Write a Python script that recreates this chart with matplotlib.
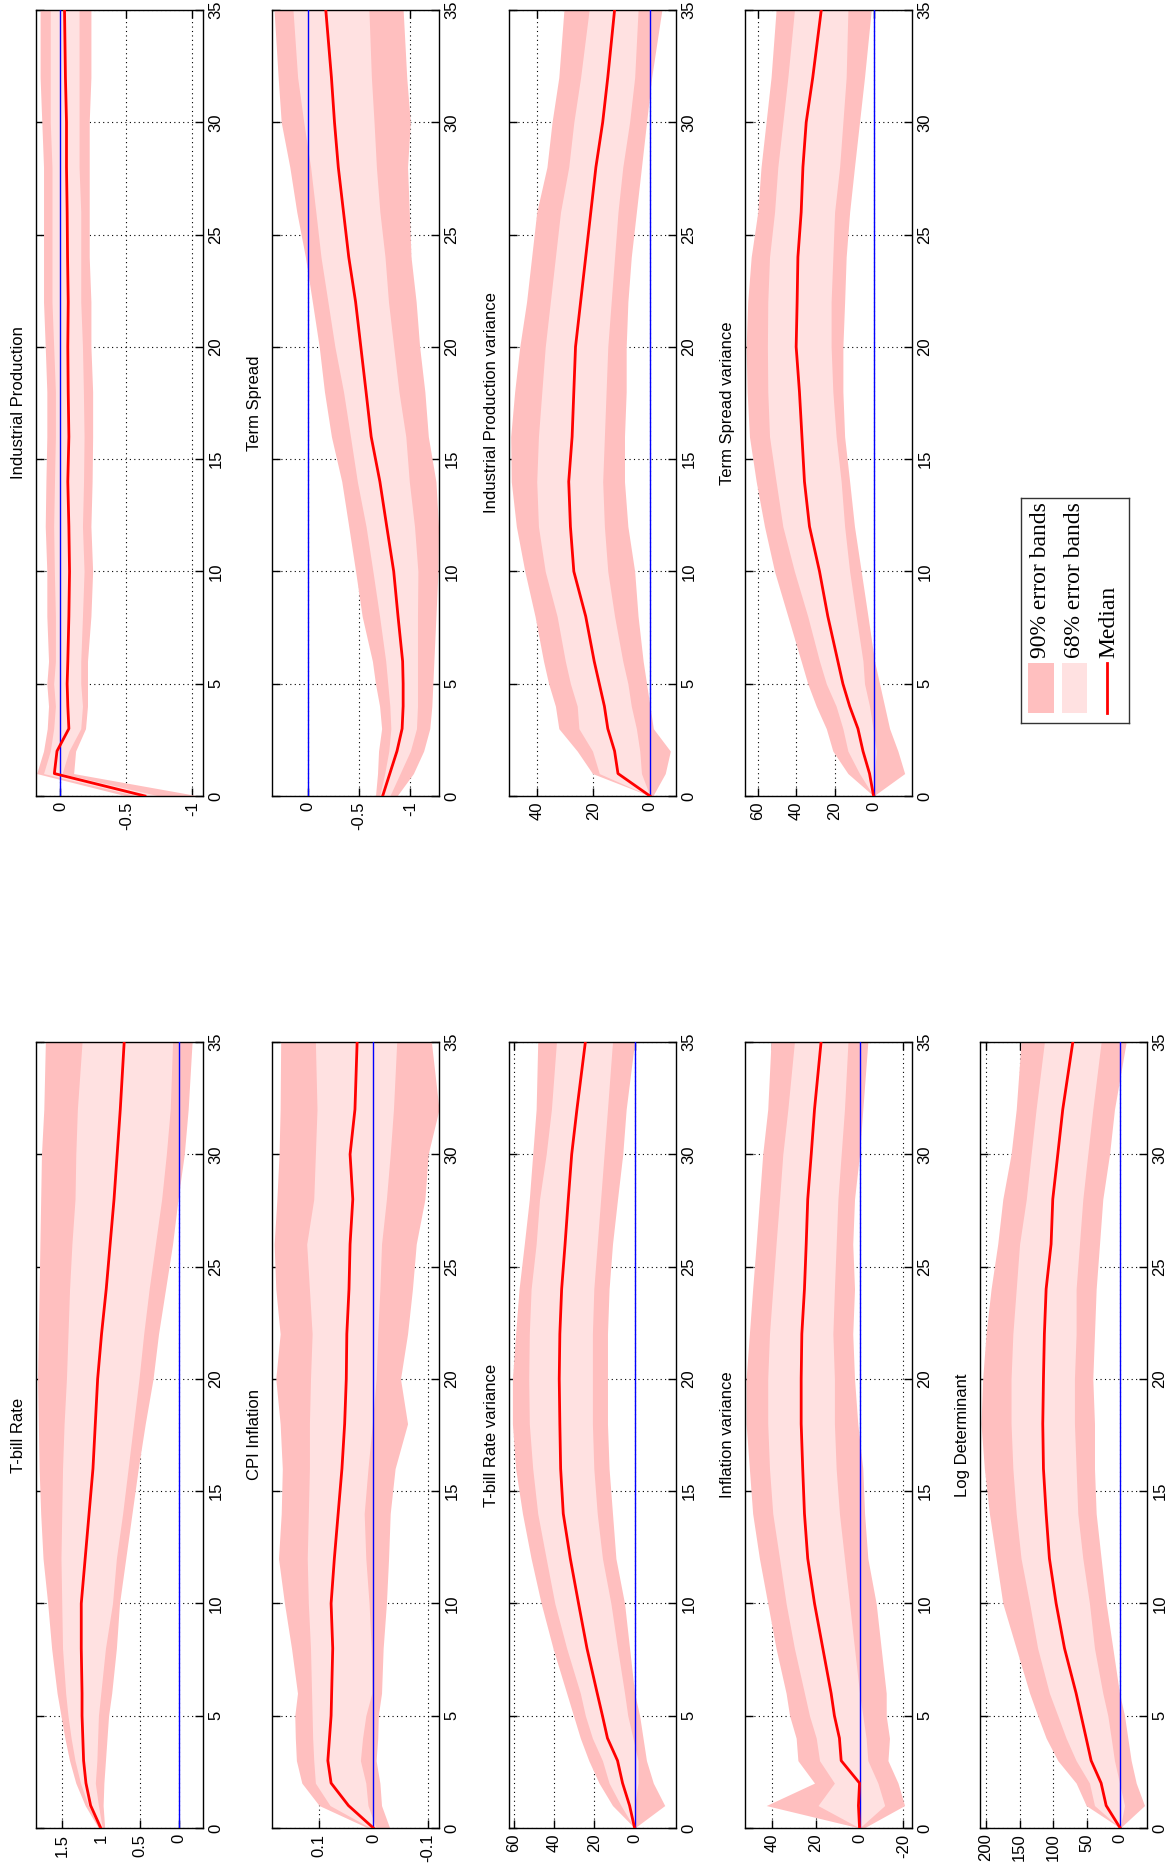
#!/usr/bin/env python3
"""Impulse responses with 68% / 90% error bands, laid out rotated (portrait page)."""

import matplotlib

matplotlib.use("Agg")
import matplotlib.pyplot as plt
from matplotlib import font_manager
from matplotlib.patches import Rectangle

# --- Data -------------------------------------------------------------------
H = [0, 1, 2, 3, 4, 5, 6, 8, 10, 12, 14, 16, 18, 20, 22, 24, 26, 28, 30, 32, 35]

tbill_med = [1.00, 1.13, 1.19, 1.22, 1.23, 1.24, 1.24, 1.25, 1.25, 1.20, 1.15, 1.10, 1.07, 1.04, 0.99, 0.93, 0.88, 0.83, 0.79, 0.75, 0.70]
tbill_hi90 = [1.03, 1.20, 1.32, 1.40, 1.46, 1.51, 1.56, 1.63, 1.68, 1.74, 1.77, 1.79, 1.80, 1.81, 1.80, 1.79, 1.78, 1.77, 1.76, 1.73, 1.71]
tbill_hi68 = [1.01, 1.16, 1.26, 1.33, 1.38, 1.42, 1.45, 1.49, 1.50, 1.51, 1.50, 1.49, 1.47, 1.44, 1.42, 1.40, 1.37, 1.33, 1.32, 1.30, 1.24]
tbill_lo68 = [0.98, 1.03, 1.07, 1.05, 1.04, 1.03, 1.00, 0.94, 0.85, 0.80, 0.72, 0.65, 0.58, 0.51, 0.45, 0.38, 0.30, 0.22, 0.16, 0.11, 0.08]
tbill_lo90 = [0.95, 0.97, 0.96, 0.94, 0.92, 0.90, 0.86, 0.80, 0.76, 0.68, 0.60, 0.52, 0.43, 0.33, 0.26, 0.17, 0.08, 0.01, -0.07, -0.12, -0.17]

cpi_med = [0.0, 0.046, 0.078, 0.084, 0.081, 0.078, 0.077, 0.075, 0.078, 0.072, 0.065, 0.058, 0.053, 0.050, 0.049, 0.045, 0.043, 0.038, 0.043, 0.034, 0.030]
cpi_hi90 = [0.01, 0.10, 0.132, 0.142, 0.144, 0.145, 0.140, 0.151, 0.164, 0.175, 0.170, 0.168, 0.172, 0.180, 0.172, 0.180, 0.183, 0.178, 0.174, 0.172, 0.171]
cpi_hi68 = [0.005, 0.08, 0.107, 0.110, 0.112, 0.113, 0.114, 0.116, 0.120, 0.122, 0.120, 0.118, 0.118, 0.116, 0.113, 0.118, 0.123, 0.110, 0.107, 0.104, 0.107]
cpi_lo68 = [-0.005, 0.01, 0.014, 0.024, 0.020, 0.014, 0.003, 0.004, 0.008, 0.014, 0.017, 0.010, 0.002, -0.005, -0.008, -0.012, -0.015, -0.024, -0.031, -0.037, -0.043]
cpi_lo90 = [-0.03, -0.015, -0.012, -0.005, -0.008, -0.009, -0.015, -0.018, -0.024, -0.028, -0.031, -0.040, -0.063, -0.050, -0.063, -0.072, -0.079, -0.095, -0.101, -0.121, -0.107]

tbv_med = [0, 2.5, 6, 8.5, 13.5, 16, 18.6, 23.7, 27.9, 32, 35.5, 36.8, 37.2, 37.5, 37.2, 36.3, 34.6, 33, 31.3, 28.7, 24.5]
tbv_hi90 = [0, 11, 17.7, 22.8, 27, 30.4, 33.8, 40.6, 46.5, 51.5, 55.8, 59.2, 60.8, 60.8, 59.2, 57.5, 54.9, 52.4, 50.7, 49, 48.2]
tbv_hi68 = [0, 6.8, 12.7, 16, 21, 24.5, 27, 33.8, 39.7, 44, 48.2, 50.7, 52.4, 52.7, 52.4, 51.5, 49, 47.3, 44, 41.4, 38.9]
tbv_lo68 = [0, 0, -1.7, -1.7, 0.8, 3.4, 5, 8.5, 11.8, 16, 18.6, 20.3, 21, 21, 21, 20.3, 18.6, 16.9, 15.2, 13.5, 11]
tbv_lo90 = [0, -15, -9.3, -5.9, -4.2, -2.5, 0, 2.5, 5, 9.3, 11, 12.7, 13.5, 13.5, 13.5, 12.7, 11, 8.5, 5.9, 4.2, 0]

iv_med = [0, 0.5, 0, 8.4, 9.2, 11.5, 13, 16.8, 20.6, 23.7, 25.2, 26, 26.7, 26.7, 26.4, 25.2, 24.4, 23.7, 22.1, 20.6, 17.6]
iv_hi90 = [0, 42.7, 20.6, 28.2, 29, 32, 33.6, 38.2, 42, 45.8, 48.9, 50.4, 51.9, 51.9, 50.4, 48.9, 47.3, 45.8, 44.3, 42, 40.5]
iv_hi68 = [0, 19, 11.5, 18.3, 19.8, 22.9, 25.2, 29.8, 33.6, 36.6, 39.7, 41.2, 42, 42, 41.2, 39.7, 38.2, 36.6, 35.1, 32.8, 29.8]
iv_lo68 = [0, -11.5, -8.4, -3.8, -3, -1.5, 0, 2.3, 4.6, 6.9, 9.2, 10.7, 11.5, 11.5, 12.2, 11.5, 10.7, 9.9, 8.4, 6.9, 5.3]
iv_lo90 = [-2, -20.6, -17.6, -13, -13.7, -12.2, -12.2, -9.9, -7.6, -3.8, -2.3, -1.5, 0.8, 2.3, 3.1, 2.3, 3.1, 2.3, 0, -1.5, -3.8]

ld_med = [0, 20.9, 28.4, 43.3, 50.7, 58.2, 65.7, 83, 95.5, 105.5, 110.4, 114.4, 115.4, 114.4, 113, 110.4, 103, 100.5, 93, 85.6, 70.6]
ld_hi90 = [0, 50.7, 65.7, 93, 110.4, 123, 135, 155, 175, 185, 195, 202.5, 207.5, 205, 200, 192.5, 182.6, 175, 162.7, 155, 147.8]
ld_hi68 = [0, 38.3, 45.8, 65.7, 80.6, 93, 105.5, 123, 135, 147.8, 155, 160, 162.7, 162.7, 160, 155, 150, 140, 132.8, 125.4, 113]
ld_lo68 = [0, -6.5, 1, 8.5, 13.4, 18.4, 25.9, 38.3, 45.8, 55.7, 63.2, 65.7, 68.2, 68.2, 65.7, 65.7, 60.7, 55.7, 48.3, 40.8, 28.4]
ld_lo90 = [0, -36.3, -23.9, -16.4, -11.4, -6.5, 1, 10.9, 20.9, 28.4, 35.8, 38.3, 38.3, 40.8, 38.3, 35.8, 30.8, 25.9, 15.9, 8.5, -9]

ip_med = [-0.64, 0.046, 0.026, -0.064, -0.056, -0.051, -0.056, -0.064, -0.069, -0.064, -0.056, -0.064, -0.059, -0.056, -0.059, -0.054, -0.051, -0.046, -0.046, -0.038, -0.031]
ip_hi90 = [-0.50, 0.18, 0.128, 0.10, 0.09, 0.103, 0.09, 0.103, 0.103, 0.115, 0.11, 0.103, 0.103, 0.115, 0.128, 0.128, 0.128, 0.128, 0.141, 0.154, 0.154]
ip_hi68 = [-0.58, 0.128, 0.077, 0.051, 0.038, 0.051, 0.038, 0.038, 0.046, 0.051, 0.045, 0.038, 0.038, 0.051, 0.064, 0.064, 0.064, 0.064, 0.077, 0.077, 0.077]
ip_lo68 = [-0.75, -0.013, -0.064, -0.154, -0.167, -0.154, -0.154, -0.167, -0.179, -0.167, -0.175, -0.179, -0.174, -0.167, -0.154, -0.154, -0.154, -0.141, -0.141, -0.141, -0.141]
ip_lo90 = [-1.05, -0.10, -0.115, -0.19, -0.205, -0.205, -0.205, -0.231, -0.244, -0.231, -0.24, -0.244, -0.244, -0.231, -0.231, -0.218, -0.218, -0.218, -0.218, -0.231, -0.231]

ts_med = [-0.73, -0.80, -0.87, -0.92, -0.93, -0.93, -0.925, -0.88, -0.838, -0.77, -0.703, -0.618, -0.568, -0.517, -0.466, -0.399, -0.348, -0.297, -0.26, -0.23, -0.175]
ts_hi90 = [-0.66, -0.68, -0.69, -0.72, -0.70, -0.66, -0.63, -0.53, -0.466, -0.399, -0.331, -0.23, -0.162, -0.111, -0.044, 0.024, 0.108, 0.176, 0.26, 0.29, 0.33]
ts_hi68 = [-0.70, -0.75, -0.79, -0.81, -0.80, -0.78, -0.76, -0.70, -0.635, -0.568, -0.483, -0.416, -0.348, -0.264, -0.196, -0.128, -0.078, -0.027, 0.04, 0.10, 0.145]
ts_lo68 = [-0.80, -0.90, -1.00, -1.06, -1.07, -1.07, -1.07, -1.07, -1.074, -1.041, -0.99, -0.956, -0.889, -0.838, -0.787, -0.753, -0.703, -0.669, -0.646, -0.62, -0.596]
ts_lo90 = [-0.87, -1.03, -1.13, -1.19, -1.21, -1.22, -1.23, -1.25, -1.27, -1.275, -1.25, -1.176, -1.142, -1.091, -1.057, -1.007, -0.99, -0.973, -1.0, -0.965, -0.93]

ipv_med = [0, 11.3, 12.5, 14.9, 16.1, 17.9, 19.7, 22.7, 26.9, 28.1, 28.7, 27.5, 26.9, 26.3, 24.5, 22.7, 20.9, 19.1, 16.7, 14.9, 12.5]
ipv_hi90 = [0, 20.3, 25.7, 32.2, 33.4, 35.8, 37.6, 40.6, 44.2, 47.2, 49, 49.2, 47.8, 46, 43.6, 41.8, 40, 36.4, 34.6, 32.2, 30.4]
ipv_hi68 = [0, 17.9, 20.3, 25.1, 25.7, 28.1, 29.9, 32.8, 37, 39.4, 40, 39.4, 38.2, 37, 35.2, 33.4, 31.6, 28.7, 26.9, 24.5, 21.5]
ipv_lo68 = [0, 3, 3.6, 4.8, 6.6, 7.8, 9.6, 12.5, 14.9, 16.1, 16.7, 16.1, 15.5, 14.9, 13.7, 12.5, 11.3, 9.6, 7.2, 5.4, 4.2]
ipv_lo90 = [-1, -5.4, -7.2, -1.2, 0, 1.2, 2.4, 4.2, 5.4, 7.8, 9, 9, 8.4, 8.4, 7.8, 6.6, 4.8, 3, 1.2, -0.6, -4.2]

tsv_med = [0, 2.1, 5.5, 8.1, 12.4, 15.9, 18.5, 23.7, 28, 33.2, 35.8, 37.1, 38.4, 40.1, 39.6, 39.2, 37.5, 36.6, 34.9, 31.5, 27.1]
tsv_hi90 = [0, 13.3, 21.1, 24.5, 29.7, 34.1, 37.5, 44.4, 51.3, 56.5, 60.8, 64.3, 65.5, 66, 65.2, 63.4, 60, 58.3, 55.7, 53.1, 50.5]
tsv_hi68 = [0, 7.3, 13.3, 15.9, 19.4, 24.5, 28, 34.1, 41, 47, 50.5, 53.9, 54.8, 55, 54.8, 53.9, 51.3, 49.6, 47, 44.4, 41]
tsv_lo68 = [0, -0.5, -1.4, 0.3, 2.1, 4.7, 5.5, 9, 12.4, 15, 16.8, 19.4, 21.1, 22, 22, 21.1, 20.2, 17.6, 15.9, 14.2, 13.3]
tsv_lo90 = [0, -16.1, -12.6, -8.3, -5.7, -3.1, -0.5, 2.9, 6.4, 9.9, 12.4, 15, 15.9, 15.9, 15, 14.2, 12.4, 9.9, 7.3, 4.7, 1.2]

H_TICKS = [0, 5, 10, 15, 20, 25, 30, 35]

C90 = "#ffbfbf"
C68 = "#ffe1e1"

names = {f.name for f in font_manager.fontManager.ttflist}
SANS = "Liberation Sans Narrow" if "Liberation Sans Narrow" in names else "Liberation Sans"
plt.rcParams["font.family"] = [SANS, "DejaVu Sans"]
plt.rcParams["axes.unicode_minus"] = False

W, HGT = 1166, 1868
fig = plt.figure(figsize=(W / 100, HGT / 100), dpi=100)
fig.patch.set_facecolor("white")

col_left = [36, 272, 509, 745, 980]
col_w = 167
row_top = {"A": 1042, "B": 10}
row_h = 786

# (title, med, lo90, hi90, lo68, hi68, value range (left, right), value ticks, column, group)
panels = [
    ("T-bill Rate", tbill_med, tbill_lo90, tbill_hi90, tbill_lo68, tbill_hi68, (1.83, -0.31), [0, 0.5, 1, 1.5], 0, "A"),
    ("CPI Inflation", cpi_med, cpi_lo90, cpi_hi90, cpi_lo68, cpi_hi68, (0.187, -0.121), [-0.1, 0, 0.1], 1, "A"),
    ("T-bill Rate variance", tbv_med, tbv_lo90, tbv_hi90, tbv_lo68, tbv_hi68, (62.5, -20.6), [0, 20, 40, 60], 2, "A"),
    ("Inflation variance", iv_med, iv_lo90, iv_hi90, iv_lo68, iv_hi68, (52.4, -24.0), [-20, 0, 20, 40], 3, "A"),
    ("Log Determinant", ld_med, ld_lo90, ld_hi90, ld_lo68, ld_hi68, (209, -40), [0, 50, 100, 150, 200], 4, "A"),
    ("Industrial Production", ip_med, ip_lo90, ip_hi90, ip_lo68, ip_hi68, (0.185, -1.08), [-1, -0.5, 0], 0, "B"),
    ("Term Spread", ts_med, ts_lo90, ts_hi90, ts_lo68, ts_hi68, (0.35, -1.28), [-1, -0.5, 0], 1, "B"),
    ("Industrial Production variance", ipv_med, ipv_lo90, ipv_hi90, ipv_lo68, ipv_hi68, (49.8, -9.2), [0, 20, 40], 2, "B"),
    ("Term Spread variance", tsv_med, tsv_lo90, tsv_hi90, tsv_lo68, tsv_hi68, (66.6, -19.9), [0, 20, 40, 60], 3, "B"),
]

FS = 12

for title, med, lo90, hi90, lo68, hi68, (vl, vr), vticks, col, grp in panels:
    x0 = col_left[col] / W
    y0 = 1 - (row_top[grp] + row_h) / HGT
    ax = fig.add_axes([x0, y0, col_w / W, row_h / HGT])

    ax.fill_betweenx(H, lo90, hi90, color=C90, linewidth=0, zorder=1)
    ax.fill_betweenx(H, lo68, hi68, color=C68, linewidth=0, zorder=2)
    ax.axvline(0, color="#0000ff", linewidth=1.0, zorder=3)
    ax.plot(med, H, color="#ff0000", linewidth=2.0, zorder=4)

    ax.set_xlim(vl, vr)
    ax.set_ylim(0, 35)
    ax.set_xticks(vticks, labels=[f"{v:g}" for v in vticks])
    ax.set_yticks(H_TICKS, labels=[str(t) for t in H_TICKS])

    ax.grid(True, color="black", linestyle=(0, (1, 3)), linewidth=0.8)
    ax.set_axisbelow(True)
    ax.tick_params(direction="in", length=6, width=1, top=True, bottom=True,
                   left=True, right=True, labelleft=False, labelright=True,
                   labelsize=FS, pad=4)
    for lbl in ax.get_xticklabels():
        lbl.set_rotation(90)
    for lbl in ax.get_yticklabels():
        lbl.set_rotation(90)
        lbl.set_verticalalignment("center")
    for sp in ax.spines.values():
        sp.set_linewidth(1.0)
        sp.set_color("black")

    ax.annotate(title, xy=(0, 0.5), xycoords="axes fraction", xytext=(-7, 0),
                textcoords="offset points", rotation=90, ha="right", va="center",
                fontsize=FS)

# --- Legend (rotated, drawn by hand) -----------------------------------------
lx, ly, lw, lh = 1021, 498, 108, 225
lax = fig.add_axes([lx / W, 1 - (ly + lh) / HGT, lw / W, lh / HGT])
lax.set_xlim(0, lw)
lax.set_ylim(lh, 0)
lax.set_xticks([])
lax.set_yticks([])
for sp in lax.spines.values():
    sp.set_linewidth(1.0)
    sp.set_color("#333333")

legend_labels = ["90% error bands", "68% error bands", "Median"]
row_x = [20, 54, 88]
lax.add_patch(Rectangle((7, 165), 26, 50, facecolor=C90, edgecolor="none"))
lax.add_patch(Rectangle((41, 165), 25, 50, facecolor=C68, edgecolor="none"))
lax.plot([86, 86], [165, 215], color="#ff0000", linewidth=2)
for x, lab in zip(row_x, legend_labels):
    lax.text(x, 160, lab, rotation=90, ha="center", va="bottom",
             family="Liberation Serif", fontsize=17)

fig.savefig("out.png", dpi=100, facecolor="white")
